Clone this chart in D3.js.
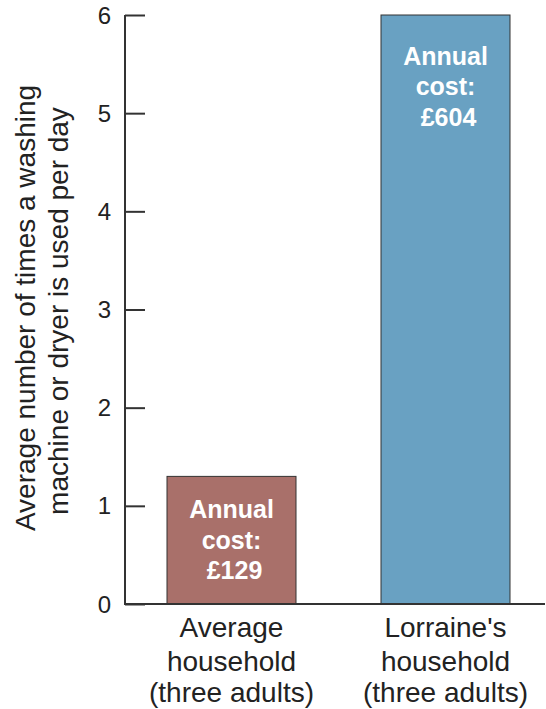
<!DOCTYPE html>
<html><head><meta charset="utf-8">
<script src="https://cdn.jsdelivr.net/npm/d3@7"></script>
<style>body{margin:0;background:#fff}svg{display:block}text{font-family:"Liberation Sans",Arial,sans-serif}</style>
</head><body>
<svg id="c" width="546" height="709"></svg>
<script>
const categories = [["Average","household","(three adults)"],["Lorraine's","household","(three adults)"]];
const values = [1.3, 6.0];
const costLabels = [["Annual","cost:","£129"],["Annual","cost:","£604"]];
const colors = ["#a9706a","#69a1c2"];
const yTicks = [0,1,2,3,4,5,6];
const yTitle = ["Average number of times a washing","machine or dryer is used per day"];

const svg = d3.select("#c");
const y = d3.scaleLinear().domain([0,6]).range([604,15]);
const x = d3.scaleBand().domain(d3.range(categories.length)).range([125,552])
  .paddingInner(85/214).paddingOuter(42/214);

// bars
svg.selectAll("rect.bar").data(values).join("rect")
  .attr("x",(d,i)=>x(i)).attr("width",x.bandwidth())
  .attr("y",d=>y(d)).attr("height",d=>y(0)-y(d))
  .attr("fill",(d,i)=>colors[i]).attr("stroke","#333").attr("stroke-width",1);

// axis
const ax = svg.append("g").attr("transform","translate(125,0)")
  .call(d3.axisRight(y).tickValues(yTicks).tickSize(20).tickFormat(""));
ax.select(".domain").attr("stroke","#333").attr("stroke-width",2).attr("d","M0,15V604");
ax.selectAll(".tick line").attr("stroke","#333").attr("stroke-width",2);
svg.selectAll("text.yt").data(yTicks).join("text").attr("class","yt")
  .attr("x",111).attr("y",d=>y(d)+8.5).attr("text-anchor","end")
  .attr("font-size",24).attr("fill","#222").text(d=>d);
// baseline
svg.append("line").attr("x1",124).attr("x2",545).attr("y1",y(0)).attr("y2",y(0)).attr("stroke","#333").attr("stroke-width",2);

// in-bar labels
const lblY = [[518,549,579],[65,95,126]];
costLabels.forEach((lines,i)=>{
  lines.forEach((t,j)=>{
    svg.append("text").attr("x",x(i)+x.bandwidth()/2 + (j===2?3:0)).attr("y",lblY[i][j])
      .attr("text-anchor","middle").attr("font-size",25).attr("font-weight","bold").attr("fill","#fff").text(t);
  });
});

// category labels
const catY = [637,671,702];
categories.forEach((lines,i)=>{
  lines.forEach((t,j)=>{
    svg.append("text").attr("x",x(i)+x.bandwidth()/2).attr("y",catY[j])
      .attr("text-anchor","middle").attr("font-size",28).attr("fill","#222").text(t);
  });
});

// y title
yTitle.forEach((t,j)=>{
  svg.append("text").attr("transform",`translate(${35+j*33},${308+j*3}) rotate(-90)`)
    .attr("text-anchor","middle").attr("font-size",28).attr("fill","#222").text(t);
});
</script>
</body></html>
